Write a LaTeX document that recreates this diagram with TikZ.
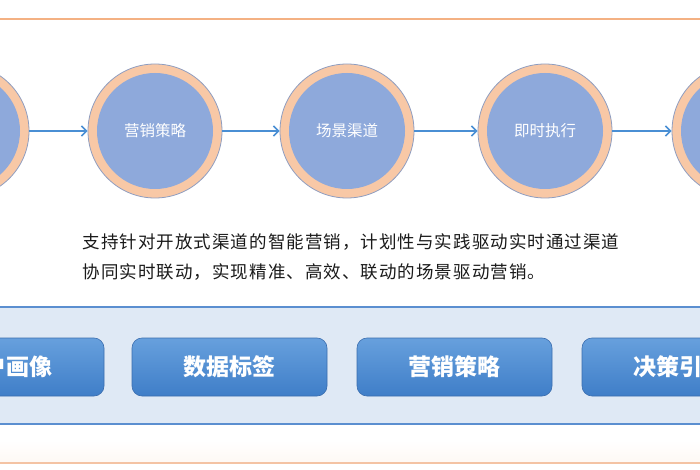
\documentclass[tikz,border=0pt]{standalone}
\usepackage{fontspec}
\newfontfamily\cjk{Noto Sans CJK SC}
\newfontfamily\cjkp{Noto Sans CJK SC}[LetterSpace=6]
\usetikzlibrary{arrows.meta}
\definecolor{topline}{HTML}{F4B183}
\definecolor{botline}{HTML}{F4C3A3}
\definecolor{ringc}{HTML}{F8C8A6}
\definecolor{innerc}{HTML}{8EA9DB}
\definecolor{ringborder}{HTML}{8E9DC0}
\definecolor{arrowc}{HTML}{4A8FD4}
\definecolor{bandfill}{HTML}{DFE9F5}
\definecolor{bandline}{HTML}{5B8FD0}
\definecolor{btntop}{HTML}{67A0DD}
\definecolor{btnbot}{HTML}{3F7EC8}
\definecolor{btnborder}{HTML}{3A6DAE}
\definecolor{paratext}{HTML}{1A1A1A}
\tikzset{
  ring/.style={circle, minimum size=134pt, inner sep=0pt, fill=ringc,
    draw=ringborder, line width=0.8pt, text=white,
    font=\cjk\fontsize{15.5}{18}\selectfont,
    path picture={\fill[innerc] (path picture bounding box.center) circle (58pt);}},
  arr/.style={draw=arrowc, line width=1.6pt, -{Straight Barb[length=5pt,width=10pt,line width=1.6pt]}},
  btn/.style={rectangle, rounded corners=10pt, minimum width=195pt, minimum height=58pt,
    top color=btntop, bottom color=btnbot, draw=btnborder, line width=0.6pt,
    text=white, font=\cjk\bfseries\fontsize{23}{26}\selectfont},
  para/.style={anchor=west, align=left, text=paratext,
    font=\cjkp\fontsize{17.5}{30}\selectfont}
}
\begin{document}
\begin{tikzpicture}[x=1pt,y=-1pt]
\useasboundingbox (0,0) rectangle (700,470);
\clip (0,0) rectangle (700,470);
\fill[white] (0,0) rectangle (700,470);
% top line
\draw[topline, line width=2.5pt] (-5,19) -- (705,19);
% circles
\node[ring] (c1) at (-38,131) {};
\node[ring] (c2) at (155,131) {营销策略};
\node[ring] (c3) at (347,131) {场景渠道};
\node[ring] (c4) at (545,131) {即时执行};
\node[ring] (c5) at (739,131) {};
\draw[arr] (c1) -- (c2);
\draw[arr] (c2) -- (c3);
\draw[arr] (c3) -- (c4);
\draw[arr] (c4) -- (c5);
% paragraph
\node[para] (t) at (79,257) {支持针对开放式渠道的智能营销，计划性与实践驱动实时通过渠道\\协同实时联动，实现精准、高效、联动的场景驱动营销。};
% band
\fill[bandfill] (-5,307) rectangle (705,424);
\draw[bandline, line width=1.5pt] (-5,307) -- (705,307);
\draw[bandline, line width=1.5pt] (-5,424) -- (705,424);
% buttons
\node[btn] (b1) at (6.5,367) {用户画像};
\node[btn] (b2) at (229.5,367) {数据标签};
\node[btn] (b3) at (454.5,367) {营销策略};
\node[btn] (b4) at (679.5,367) {决策引擎};
% bottom
\shade[top color=white, bottom color=ringc!12] (-5,440) rectangle (705,462);
\draw[botline, line width=2.5pt] (-5,463) -- (705,463);
\end{tikzpicture}
\end{document}
